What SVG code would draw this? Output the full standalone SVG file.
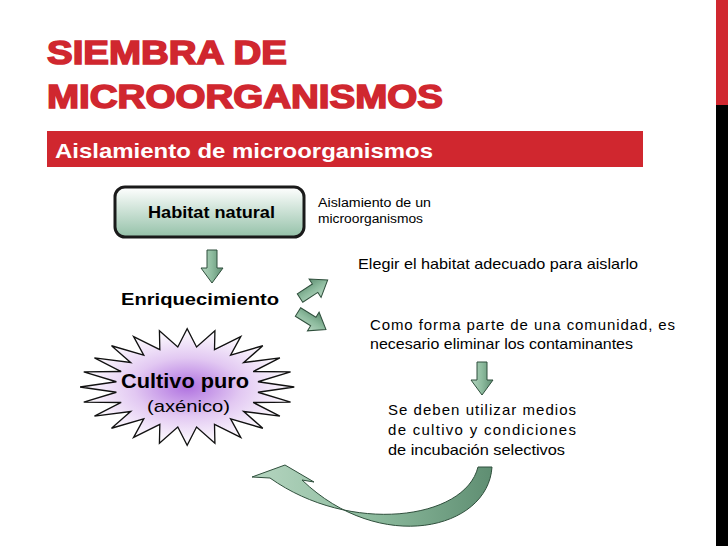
<svg xmlns="http://www.w3.org/2000/svg" width="728" height="546" viewBox="0 0 728 546">
<defs>
<linearGradient id="gbox" x1="0" y1="0" x2="0" y2="1"><stop offset="0" stop-color="#ffffff"/><stop offset="1" stop-color="#94c1a8"/></linearGradient>
<linearGradient id="garr" x1="0" y1="0" x2="1" y2="0"><stop offset="0" stop-color="#b5d5c0"/><stop offset="0.5" stop-color="#8dbb9e"/><stop offset="1" stop-color="#5f8e72"/></linearGradient>
<radialGradient id="gstar" cx="0.5" cy="0.5" r="0.5"><stop offset="0" stop-color="#b072e0"/><stop offset="0.5" stop-color="#e2c8f2"/><stop offset="1" stop-color="#ffffff"/></radialGradient>
<path id="darr" d="M-5,0 L5,0 L5,18 L11,18 L0,33 L-11,18 L-5,18 Z"/>
</defs>
<style>
.t{font-family:"Liberation Sans",Arial,sans-serif;fill:#000}
.b{font-weight:bold}
.ttl{fill:#d0272f;stroke:#d0272f;stroke-width:1.6;font-size:33px;font-weight:bold}
.arr{fill:url(#garr);stroke:#2f4f3c;stroke-width:1}
</style>
<rect width="728" height="546" fill="#fff"/>
<rect x="716" y="0" width="12" height="105" fill="#d0272f"/>
<rect x="716" y="105" width="12" height="441" fill="#000"/>
<text class="t ttl" x="47" y="64" textLength="240" lengthAdjust="spacingAndGlyphs">SIEMBRA DE</text>
<text class="t ttl" x="47" y="108" textLength="396" lengthAdjust="spacingAndGlyphs">MICROORGANISMOS</text>
<rect x="47" y="131" width="596" height="36" fill="#d0272f"/>
<text class="t b" x="55" y="158" textLength="378" lengthAdjust="spacingAndGlyphs" style="fill:#fff;font-size:21px">Aislamiento de microorganismos</text>
<g id="habitat">
<rect x="115" y="187" width="189" height="50" rx="10" fill="url(#gbox)" stroke="#1a1a1a" stroke-width="3"/>
<text class="t b" x="148" y="218" textLength="127" lengthAdjust="spacingAndGlyphs" style="font-size:17px">Habitat natural</text>
</g>
<g id="aislamiento">
<text class="t" x="318" y="207" textLength="113" lengthAdjust="spacingAndGlyphs" style="font-size:12.5px">Aislamiento de un</text>
<text class="t" x="318" y="223" textLength="105" lengthAdjust="spacingAndGlyphs" style="font-size:12.5px">microorganismos</text>
</g>
<g id="elegir"><text class="t" x="358" y="269" textLength="280" lengthAdjust="spacingAndGlyphs" style="font-size:15px">Elegir el habitat adecuado para aislarlo</text></g>
<g id="enriquecimiento"><text class="t b" x="121" y="305" textLength="158" lengthAdjust="spacingAndGlyphs" style="font-size:17px">Enriquecimiento</text></g>
<g id="como">
<text class="t" x="370" y="330" textLength="305" lengthAdjust="spacing" style="font-size:15px">Como forma parte de una comunidad, es</text>
<text class="t" x="370" y="349" textLength="263" lengthAdjust="spacingAndGlyphs" style="font-size:15px">necesario eliminar los contaminantes</text>
</g>
<g id="cultivo">
<polygon transform="translate(0,387) scale(1.02,1.12) translate(-3.5,-387)" points="292,387 256.4,391.7 288.4,400.5 251.7,400.8 277.9,413 242.5,408.9 261.2,423.8 229.6,415.5 239.5,432 213.8,420.3 214.2,437.2 196.2,422.7 187,439 177.8,422.7 159.8,437.2 160.2,420.3 134.5,432 144.4,415.5 112.8,423.8 131.5,408.9 96.1,413 122.3,400.8 85.6,400.5 117.6,391.7 82,387 117.6,382.3 85.6,373.5 122.3,373.2 96.1,361 131.5,365.1 112.8,350.2 144.4,358.5 134.5,342 160.2,353.7 159.8,336.8 177.8,351.3 187,335 196.2,351.3 214.2,336.8 213.8,353.7 239.5,342 229.6,358.5 261.2,350.2 242.5,365.1 277.9,361 251.7,373.2 288.4,373.5 256.4,382.3" fill="url(#gstar)" stroke="#111" stroke-width="1.3"/>
<text class="t b" x="121" y="388" textLength="128" lengthAdjust="spacingAndGlyphs" style="font-size:20px">Cultivo puro</text>
<text class="t" x="147" y="412" textLength="83" lengthAdjust="spacingAndGlyphs" style="font-size:17px">(axénico)</text>
</g>
<g id="medios">
<text class="t" x="388" y="415" textLength="188" lengthAdjust="spacing" style="font-size:15px">Se deben utilizar medios</text>
<text class="t" x="388" y="435" textLength="188" lengthAdjust="spacing" style="font-size:15px">de cultivo y condiciones</text>
<text class="t" x="388" y="455" textLength="177" lengthAdjust="spacingAndGlyphs" style="font-size:15px">de incubación selectivos</text>
</g>
<g id="connectors">
<use href="#darr" class="arr" transform="translate(212,250)"/>
<use href="#darr" class="arr" transform="translate(300,298) rotate(-123)"/>
<use href="#darr" class="arr" transform="translate(298,312) rotate(-58)"/>
<use href="#darr" class="arr" transform="translate(482,362)"/>
<path class="arr" d="M492,467 C488,530 380,555 302,480 L314,482 L285,465 L252,477 L270,478 C350,535 465,520 478,467 Z"/>
</g>
</svg>
